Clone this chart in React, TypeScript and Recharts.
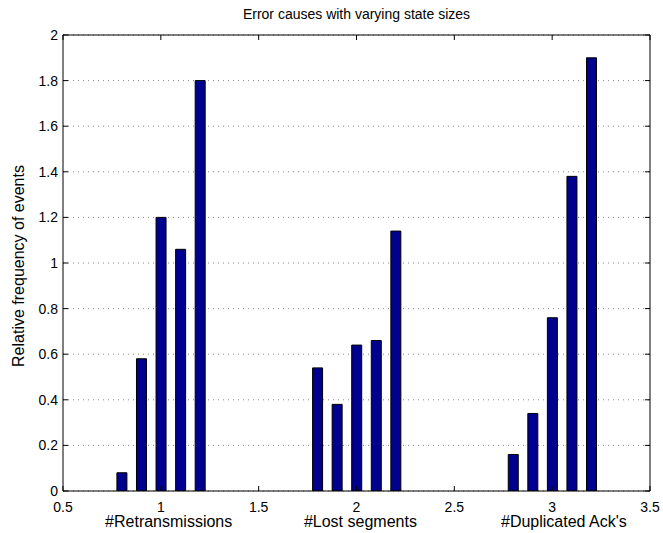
import React from 'react';
import { BarChart, Bar, XAxis, YAxis, CartesianGrid, Label, ReferenceLine } from 'recharts';

// bar positions along the x axis (three groups of five)
const positions = [0.8, 0.9, 1.0, 1.1, 1.2, 1.8, 1.9, 2.0, 2.1, 2.2, 2.8, 2.9, 3.0, 3.1, 3.2];
const frequencies = [0.08, 0.58, 1.2, 1.06, 1.8, 0.54, 0.38, 0.64, 0.66, 1.14, 0.16, 0.34, 0.76, 1.38, 1.9];

const xTicks = [0.5, 1, 1.5, 2, 2.5, 3, 3.5];
const yTicks = [0, 0.2, 0.4, 0.6, 0.8, 1, 1.2, 1.4, 1.6, 1.8, 2];

const causeLabels = ['#Retransmissions', '#Lost segments', "#Duplicated Ack's"];
const causeAnchors = [1.04, 2.02, 3.06];

const data = positions.map((x, i) => ({ x, value: frequencies[i] }));

const X_MIN = 0.5, X_MAX = 3.5, Y_MIN = 0, Y_MAX = 2;
// inward tick length, in data units (about 5px)
const TICK_X = 0.026;
const TICK_Y = 0.022;

const FONT = '"Liberation Sans", Arial, Helvetica, sans-serif';
const fmt = (v: number) => String(Math.round(v * 10) / 10);

const YTitle = (props: any) => {
  const vb = props.viewBox || { y: 35, height: 456 };
  const cy = vb.y + vb.height / 2 + 3;
  return (
    <text
      x={18}
      y={cy}
      transform={`rotate(-90 18 ${cy})`}
      textAnchor="middle"
      dominantBaseline="central"
      fontSize={16}
      fontFamily={FONT}
      fill="#000"
    >
      Relative frequency of events
    </text>
  );
};

export default function App() {
  return (
    <div style={{ position: 'absolute', left: 0, top: 0, width: 663, height: 533, background: '#fff', fontFamily: FONT }}>
      <div
        style={{
          position: 'absolute',
          left: 63,
          width: 587,
          top: 6,
          textAlign: 'center',
          fontSize: 14,
          lineHeight: '16px',
          color: '#000',
        }}
      >
        Error causes with varying state sizes
      </div>
      <BarChart width={663} height={533} data={data} margin={{ top: 35, right: 13, left: 0, bottom: 0 }}>
        <CartesianGrid vertical={false} stroke="#888" strokeDasharray="1 4" />
        <XAxis
          dataKey="x"
          type="number"
          domain={[X_MIN, X_MAX]}
          allowDataOverflow
          ticks={xTicks}
          tickFormatter={fmt}
          tickLine={false}
          tickSize={0}
          tickMargin={11}
          height={42}
          axisLine={{ stroke: '#000' }}
          tick={{ fontSize: 14, fill: '#000', fontFamily: FONT }}
        />
        <YAxis
          type="number"
          domain={[Y_MIN, Y_MAX]}
          allowDataOverflow
          ticks={yTicks}
          tickFormatter={fmt}
          tickLine={false}
          tickSize={0}
          tickMargin={5}
          width={63}
          axisLine={{ stroke: '#000' }}
          tick={{ fontSize: 14, fill: '#000', fontFamily: FONT }}
        >
          <Label content={<YTitle />} />
        </YAxis>

        {/* box: top and right edges */}
        <ReferenceLine y={Y_MAX} stroke="#000" />
        <ReferenceLine x={X_MAX} stroke="#000" />

        {/* inward tick marks on all four sides */}
        {xTicks.map((t) => (
          <ReferenceLine key={`xb${t}`} segment={[{ x: t, y: Y_MIN }, { x: t, y: Y_MIN + TICK_Y }]} stroke="#000" />
        ))}
        {xTicks.map((t) => (
          <ReferenceLine key={`xt${t}`} segment={[{ x: t, y: Y_MAX }, { x: t, y: Y_MAX - TICK_Y }]} stroke="#000" />
        ))}
        {yTicks.map((t) => (
          <ReferenceLine key={`yl${t}`} segment={[{ x: X_MIN, y: t }, { x: X_MIN + TICK_X, y: t }]} stroke="#000" />
        ))}
        {yTicks.map((t) => (
          <ReferenceLine key={`yr${t}`} segment={[{ x: X_MAX, y: t }, { x: X_MAX - TICK_X, y: t }]} stroke="#000" />
        ))}

        {/* group captions under the axis */}
        {causeLabels.map((name, i) => (
          <ReferenceLine
            key={name}
            x={causeAnchors[i]}
            stroke="none"
            label={{ value: name, position: 'bottom', offset: 25, fontSize: 16, fill: '#000', fontFamily: FONT }}
          />
        ))}

        <Bar
          dataKey="value"
          fill="#00008F"
          stroke="#000"
          strokeWidth={1}
          barSize={10}
          isAnimationActive={false}
        />
      </BarChart>
    </div>
  );
}
